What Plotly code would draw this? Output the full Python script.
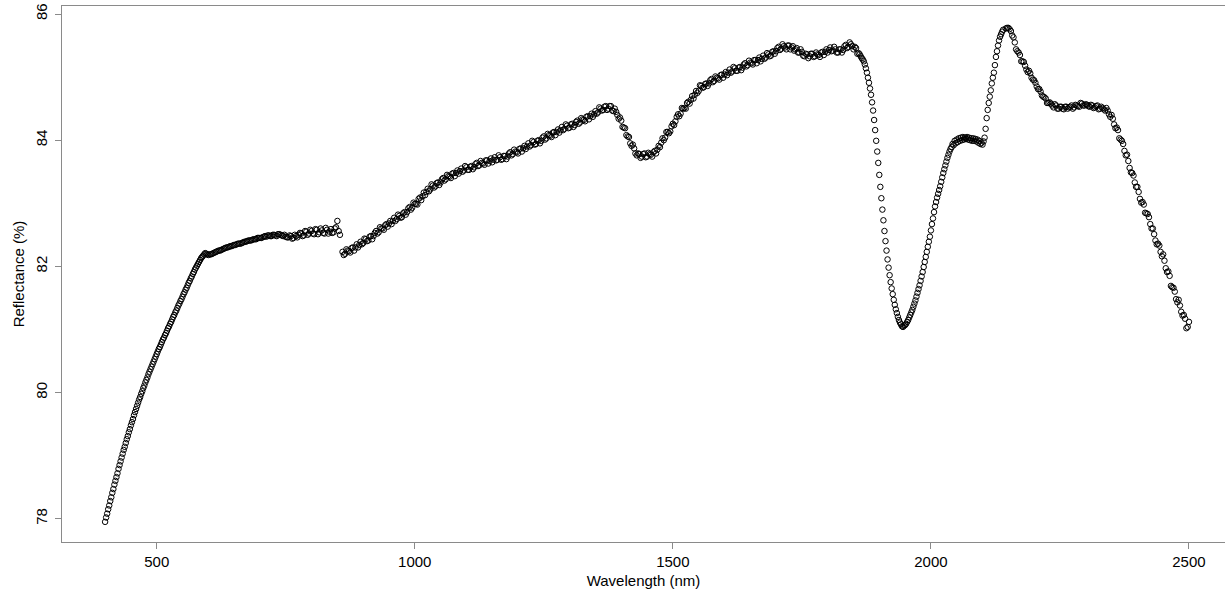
import plotly.graph_objects as go

# ---- data (reflectance %, by wavelength in nm) ----
# Segment A: 400-598 nm, every 2 nm
segA_start, segA_step = 400, 2
segA_vals = [
    77.95, 78.02, 78.08, 78.15, 78.21, 78.28, 78.34, 78.41, 78.47, 78.54,
    78.60, 78.66, 78.72, 78.79, 78.85, 78.91, 78.97, 79.03, 79.09, 79.14,
    79.20, 79.26, 79.31, 79.37, 79.42, 79.48, 79.53, 79.58, 79.64, 79.69,
    79.74, 79.79, 79.84, 79.89, 79.93, 79.98, 80.02, 80.07, 80.11, 80.16,
    80.20, 80.24, 80.29, 80.33, 80.37, 80.41, 80.45, 80.49, 80.53, 80.57,
    80.61, 80.65, 80.69, 80.72, 80.76, 80.80, 80.84, 80.87, 80.91, 80.94,
    80.98, 81.02, 81.05, 81.09, 81.12, 81.16, 81.20, 81.23, 81.27, 81.30,
    81.34, 81.38, 81.41, 81.45, 81.48, 81.52, 81.56, 81.59, 81.63, 81.66,
    81.70, 81.74, 81.77, 81.81, 81.84, 81.88, 81.91, 81.95, 81.98, 82.01,
    82.04, 82.07, 82.10, 82.13, 82.15, 82.17, 82.19, 82.21, 82.20, 82.19,
]

# Segment B: 600-855 nm, every 5 nm
segB_start, segB_step = 600, 5
segB_vals = [
    82.18, 82.19, 82.21, 82.23, 82.25, 82.26, 82.28, 82.30, 82.31, 82.32,
    82.34, 82.35, 82.36, 82.37, 82.39, 82.40, 82.41, 82.42, 82.43, 82.45,
    82.45, 82.46, 82.48, 82.49, 82.48, 82.50, 82.49, 82.51, 82.50, 82.48,
    82.47, 82.46, 82.48, 82.45, 82.48, 82.50, 82.52, 82.49, 82.55, 82.52,
    82.56, 82.51, 82.58, 82.54, 82.57, 82.52, 82.58, 82.55, 82.53, 82.60,
    82.72, 82.50,
]
# Segment B2: 602.5-852.5 nm, every 5 nm (in-between readings)
segB2_start, segB2_step = 602.5, 5
segB2_vals = [
    82.19, 82.20, 82.22, 82.24, 82.25, 82.27, 82.29, 82.30, 82.32, 82.33,
    82.34, 82.36, 82.36, 82.38, 82.39, 82.41, 82.41, 82.43, 82.43, 82.45,
    82.45, 82.47, 82.47, 82.49, 82.48, 82.50, 82.48, 82.51, 82.49, 82.50,
    82.46, 82.49, 82.44, 82.50, 82.46, 82.53, 82.48, 82.56, 82.50, 82.58,
    82.52, 82.59, 82.51, 82.60, 82.53, 82.61, 82.52, 82.59, 82.54, 82.62,
    82.56,
]

# Segment C: 860-1860 nm, every 5 nm
segC_start, segC_step = 860, 5
segC_vals = [
    82.23, 82.20, 82.25, 82.22, 82.30, 82.30, 82.30, 82.39, 82.37, 82.43,
    82.41, 82.48, 82.48, 82.56, 82.54, 82.60, 82.58, 82.67, 82.68, 82.67,
    82.77, 82.75, 82.80, 82.78, 82.86, 82.86, 82.94, 82.93, 82.99, 82.98,
    83.09, 83.11, 83.13, 83.23, 83.22, 83.28, 83.27, 83.33, 83.33, 83.40,
    83.38, 83.43, 83.40, 83.48, 83.48, 83.47, 83.55, 83.52, 83.57, 83.53,
    83.59, 83.57, 83.64, 83.60, 83.64, 83.61, 83.68, 83.67, 83.65, 83.73,
    83.69, 83.73, 83.70, 83.75, 83.74, 83.81, 83.78, 83.82, 83.79, 83.87,
    83.87, 83.86, 83.95, 83.92, 83.97, 83.94, 84.00, 83.99, 84.06, 84.03,
    84.08, 84.05, 84.13, 84.13, 84.12, 84.21, 84.18, 84.23, 84.20, 84.26,
    84.24, 84.31, 84.28, 84.33, 84.30, 84.38, 84.38, 84.37, 84.46, 84.44,
    84.50, 84.48, 84.54, 84.50, 84.54, 84.46, 84.45, 84.34, 84.31, 84.20,
    84.08, 84.05, 83.91, 83.87, 83.76, 83.78, 83.74, 83.79, 83.74, 83.78,
    83.74, 83.83, 83.85, 83.89, 84.03, 84.04, 84.13, 84.14, 84.26, 84.30,
    84.41, 84.42, 84.50, 84.50, 84.61, 84.64, 84.66, 84.78, 84.78, 84.86,
    84.84, 84.90, 84.90, 84.97, 84.94, 84.99, 84.96, 85.04, 85.04, 85.03,
    85.12, 85.09, 85.14, 85.10, 85.16, 85.15, 85.22, 85.19, 85.23, 85.20,
    85.27, 85.27, 85.25, 85.34, 85.31, 85.36, 85.34, 85.41, 85.41, 85.48,
    85.45, 85.49, 85.44, 85.50, 85.47, 85.42, 85.46, 85.39, 85.40, 85.33,
    85.36, 85.33, 85.37, 85.33, 85.36, 85.32, 85.40, 85.40, 85.39, 85.47,
    85.42, 85.44, 85.39, 85.44, 85.43, 85.51, 85.48, 85.52, 85.44, 85.46,
    85.38,
]
# Segment C2: 862.5-1857.5 nm, every 5 nm (in-between readings)
segC2_start, segC2_step = 862.5, 5
segC2_vals = [
    82.18, 82.27, 82.24, 82.29, 82.25, 82.35, 82.34, 82.35, 82.44, 82.40,
    82.47, 82.43, 82.53, 82.52, 82.62, 82.60, 82.65, 82.63, 82.72, 82.72,
    82.72, 82.82, 82.77, 82.84, 82.82, 82.92, 82.90, 83.01, 82.99, 83.07,
    83.05, 83.17, 83.18, 83.19, 83.30, 83.25, 83.32, 83.29, 83.38, 83.36,
    83.45, 83.42, 83.47, 83.43, 83.52, 83.51, 83.50, 83.59, 83.53, 83.58,
    83.54, 83.62, 83.59, 83.67, 83.63, 83.68, 83.63, 83.71, 83.69, 83.68,
    83.76, 83.69, 83.75, 83.70, 83.79, 83.76, 83.85, 83.81, 83.86, 83.82,
    83.91, 83.90, 83.90, 83.99, 83.93, 83.99, 83.95, 84.04, 84.01, 84.10,
    84.07, 84.12, 84.08, 84.17, 84.16, 84.16, 84.25, 84.19, 84.25, 84.21,
    84.29, 84.26, 84.35, 84.32, 84.37, 84.33, 84.42, 84.41, 84.42, 84.52,
    84.47, 84.53, 84.48, 84.54, 84.47, 84.50, 84.40, 84.36, 84.21, 84.19,
    84.06, 83.95, 83.93, 83.79, 83.79, 83.72, 83.78, 83.73, 83.80, 83.77,
    83.81, 83.79, 83.91, 83.96, 84.00, 84.13, 84.11, 84.22, 84.24, 84.37,
    84.38, 84.51, 84.51, 84.59, 84.58, 84.70, 84.72, 84.75, 84.87, 84.83,
    84.89, 84.86, 84.95, 84.92, 85.01, 84.98, 85.03, 84.99, 85.08, 85.07,
    85.07, 85.16, 85.10, 85.15, 85.11, 85.20, 85.17, 85.26, 85.22, 85.27,
    85.22, 85.31, 85.29, 85.29, 85.38, 85.33, 85.40, 85.37, 85.46, 85.43,
    85.52, 85.47, 85.50, 85.44, 85.49, 85.44, 85.39, 85.44, 85.34, 85.37,
    85.30, 85.37, 85.32, 85.39, 85.35, 85.39, 85.35, 85.44, 85.43, 85.41,
    85.48, 85.39, 85.44, 85.39, 85.49, 85.46, 85.55, 85.49, 85.48, 85.37,
]

# Segment D: 1862-2140 nm, every 2 nm
segD_start, segD_step = 1862, 2
segD_vals = [
    85.36, 85.33, 85.30, 85.28, 85.25, 85.20, 85.14, 85.07, 84.99, 84.91,
    84.82, 84.72, 84.60, 84.47, 84.32, 84.16, 83.99, 83.82, 83.64, 83.45,
    83.26, 83.08, 82.90, 82.73, 82.56, 82.40, 82.25, 82.11, 81.98, 81.86,
    81.75, 81.65, 81.56, 81.47, 81.39, 81.32, 81.26, 81.20, 81.15, 81.11,
    81.08, 81.05, 81.04, 81.06, 81.07, 81.09, 81.12, 81.15, 81.19, 81.23,
    81.27, 81.31, 81.36, 81.41, 81.46, 81.52, 81.58, 81.64, 81.70, 81.77,
    81.84, 81.91, 81.99, 82.07, 82.15, 82.23, 82.31, 82.39, 82.47, 82.57,
    82.67, 82.76, 82.86, 82.95, 83.02, 83.09, 83.15, 83.21, 83.27, 83.34,
    83.41, 83.48, 83.54, 83.60, 83.66, 83.72, 83.77, 83.82, 83.86, 83.89,
    83.94, 83.92, 83.99, 83.95, 84.01, 83.97, 84.03, 83.99, 84.04, 84.00,
    84.05, 84.01, 84.04, 84.02, 84.05, 84.01, 84.04, 84.00, 84.03, 83.99,
    84.03, 83.99, 84.02, 83.98, 84.01, 83.96, 83.99, 83.94, 83.96, 83.93,
    83.98, 84.04, 84.18, 84.35, 84.48, 84.59, 84.69, 84.79, 84.90, 84.99,
    85.07, 85.19, 85.32, 85.41, 85.50, 85.58, 85.64, 85.68, 85.72, 85.75,
]

# Segment E: 2145-2500 nm, every 5 nm
segE_start, segE_step = 2145, 5
segE_vals = [
    85.77, 85.78, 85.73, 85.63, 85.44, 85.39, 85.25, 85.24, 85.12, 85.10,
    84.99, 84.95, 84.85, 84.81, 84.71, 84.68, 84.59, 84.60, 84.55, 84.57,
    84.50, 84.53, 84.50, 84.53, 84.50, 84.53, 84.50, 84.56, 84.54, 84.59,
    84.55, 84.57, 84.54, 84.56, 84.51, 84.54, 84.49, 84.53, 84.49, 84.51,
    84.41, 84.40, 84.25, 84.20, 84.03, 83.99, 83.83, 83.77, 83.56, 83.48,
    83.33, 83.26, 83.07, 83.02, 82.85, 82.83, 82.67, 82.60, 82.41, 82.36,
    82.23, 82.19, 81.97, 81.92, 81.69, 81.66, 81.48, 81.47, 81.28, 81.23,
    81.02, 81.12,
]
# Segment E2: 2147.5-2497.5 nm, every 5 nm (in-between readings)
segE2_start, segE2_step = 2147.5, 5
segE2_vals = [
    85.78, 85.76, 85.66, 85.55, 85.41, 85.35, 85.25, 85.18, 85.08, 85.06,
    84.96, 84.91, 84.81, 84.77, 84.69, 84.66, 84.59, 84.58, 84.52, 84.55,
    84.50, 84.53, 84.49, 84.53, 84.52, 84.55, 84.52, 84.55, 84.53, 84.58,
    84.55, 84.56, 84.53, 84.55, 84.52, 84.55, 84.50, 84.51, 84.47, 84.47,
    84.37, 84.34, 84.19, 84.16, 84.01, 83.94, 83.76, 83.67, 83.49, 83.44,
    83.26, 83.18, 83.01, 82.98, 82.84, 82.78, 82.60, 82.51, 82.35, 82.33,
    82.16, 82.09, 81.91, 81.85, 81.67, 81.60, 81.43, 81.38, 81.22, 81.17,
    81.04,
]

x_tick_vals = [500, 1000, 1500, 2000, 2500]
y_tick_vals = [78, 80, 82, 84, 86]
x_title = "Wavelength (nm)"
y_title = "Reflectance (%)"

segments = [
    (segA_start, segA_step, segA_vals),
    (segB_start, segB_step, segB_vals),
    (segB2_start, segB2_step, segB2_vals),
    (segC_start, segC_step, segC_vals),
    (segC2_start, segC2_step, segC2_vals),
    (segD_start, segD_step, segD_vals),
    (segE_start, segE_step, segE_vals),
    (segE2_start, segE2_step, segE2_vals),
]
pairs = []
for start, step, vals in segments:
    pairs += [(start + step * i, v) for i, v in enumerate(vals)]
pairs.sort()
wavelength = [p[0] for p in pairs]
reflectance = [p[1] for p in pairs]

fig = go.Figure(
    go.Scatter(
        x=wavelength,
        y=reflectance,
        mode="markers",
        marker=dict(symbol="circle-open", size=5.5, color="#000000",
                    line=dict(width=1, color="#111111")),
        hoverinfo="x+y",
    )
)

axis_font = dict(family="Liberation Sans, Arial, sans-serif", size=15, color="#000000")
line_col = "#8a8a8a"

fig.update_layout(
    width=1225,
    height=594,
    margin=dict(l=62, r=0, t=6, b=52, pad=0),
    paper_bgcolor="white",
    plot_bgcolor="white",
    showlegend=False,
    font=axis_font,
    xaxis=dict(
        range=[316.5, 2569.8],
        automargin=False,
        tickvals=x_tick_vals,
        ticks="outside",
        ticklen=6,
        tickcolor=line_col,
        tickwidth=1,
        showline=True,
        linecolor=line_col,
        linewidth=1,
        mirror=True,
        showgrid=False,
        zeroline=False,
        tickfont=axis_font,
        title=dict(text=x_title, font=axis_font, standoff=6),
    ),
    yaxis=dict(
        range=[77.631, 86.127],
        automargin=False,
        tickvals=y_tick_vals,
        ticks="outside",
        ticklen=6,
        tickcolor=line_col,
        tickwidth=1,
        tickangle=-90,
        ticklabelstandoff=2,
        showline=True,
        linecolor=line_col,
        linewidth=1,
        mirror=False,
        showgrid=False,
        zeroline=False,
        tickfont=axis_font,
        title=dict(text=y_title, font=axis_font, standoff=4),
    ),
)

fig.write_html(
    "out.html",
    config={"displayModeBar": False},
    post_script="document.body.style.margin='0';document.body.style.padding='0';"
                "document.body.style.overflow='hidden';",
)
